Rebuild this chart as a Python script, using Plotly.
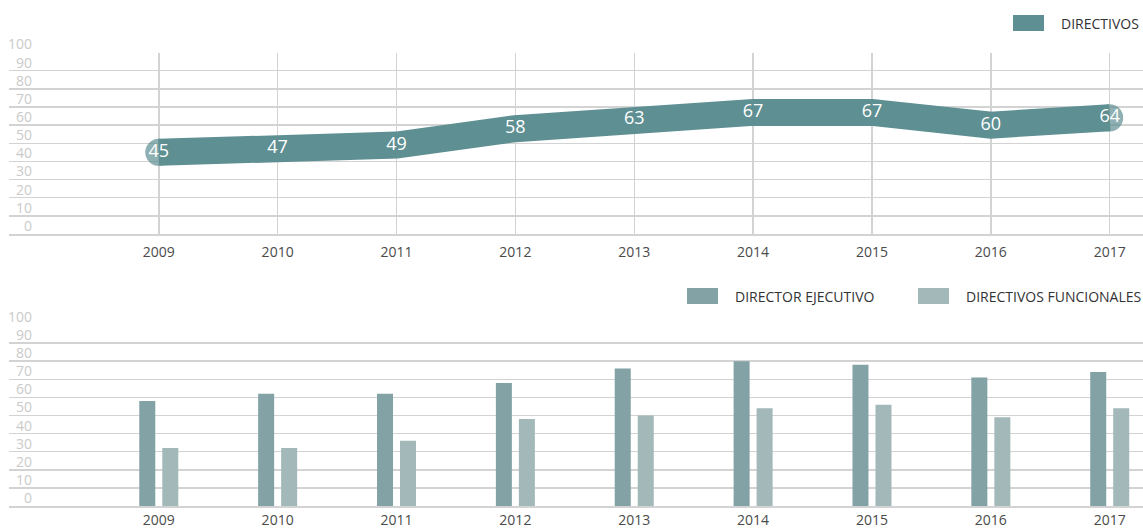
import plotly.graph_objects as go

years = [2009, 2010, 2011, 2012, 2013, 2014, 2015, 2016, 2017]
directivos = [45, 47, 49, 58, 63, 67, 67, 60, 64]
director_ejecutivo = [58, 62, 62, 68, 76, 80, 78, 71, 74]
directivos_funcionales = [32, 32, 36, 48, 50, 54, 56, 49, 54]
y_ticks = [0, 10, 20, 30, 40, 50, 60, 70, 80, 90, 100]

W, H = 1143, 528
ML = 9
FONT = "Open Sans"
LINE_C = "#5e8f92"
DARK_C = "#82a2a5"
LIGHT_C = "#a3b8b9"
GRID_C = "#d3d3d3"
TICK_C = "#cacaca"
TEXT_C = "#4a4a4a"

def px_x(p):
    return (p - ML) / (W - ML)

def px_y(p):
    return (H - p) / H

fig = go.Figure()

ends = [27 if i in (0, len(years) - 1) else 0 for i in range(len(years))]
fig.add_trace(go.Scatter(
    x=years, y=directivos, mode="lines+markers+text",
    line=dict(color=LINE_C, width=27),
    marker=dict(color=LINE_C, size=ends, line=dict(width=0)),
    text=[str(v) for v in directivos], textposition="middle center",
    textfont=dict(color="white", size=18, family=FONT),
    xaxis="x", yaxis="y", showlegend=False, hoverinfo="skip", cliponaxis=False,
))

fig.add_trace(go.Bar(
    x=years, y=director_ejecutivo, marker=dict(color=DARK_C, line=dict(width=0)),
    xaxis="x2", yaxis="y2", showlegend=False, name="DIRECTOR EJECUTIVO",
))
fig.add_trace(go.Bar(
    x=years, y=directivos_funcionales, marker=dict(color=LIGHT_C, line=dict(width=0)),
    xaxis="x2", yaxis="y2", showlegend=False, name="DIRECTIVOS FUNCIONALES",
))

xr = [2007.74, 2017.28]
common_x = dict(range=xr, tickvals=years, ticktext=[str(y) for y in years],
                tickfont=dict(family=FONT, size=14, color=TEXT_C),
                ticks="", showline=True, linecolor=GRID_C, linewidth=2,
                zeroline=False, fixedrange=True)
common_y = dict(range=[0, 100], tickvals=y_ticks, showgrid=True, gridcolor=GRID_C,
                gridwidth=1.5, zeroline=False, ticks="",
                tickfont=dict(family=FONT, size=14, color=TICK_C),
                ticklabelstandoff=-24, ticklabelshift=-8, fixedrange=True)

fig.update_layout(
    width=W, height=H,
    margin=dict(l=ML, r=0, t=0, b=0, autoexpand=False),
    plot_bgcolor="white", paper_bgcolor="white",
    font=dict(family=FONT),
    bargap=0.613, bargroupgap=0.304, barmode="group",
    xaxis=dict(domain=[0, 1], anchor="y", showgrid=True, gridcolor=GRID_C, gridwidth=1.5,
               ticklabelstandoff=4, **common_x),
    yaxis=dict(domain=[px_y(234), px_y(52.5)], anchor="x", **common_y),
    xaxis2=dict(domain=[0, 1], anchor="y2", showgrid=False, ticklabelstandoff=0, **common_x),
    yaxis2=dict(domain=[px_y(506), px_y(325)], anchor="x2", **common_y),
)

# Legends (manual)
legend_items = [
    (1013, 1044, 15, 31, LINE_C, 1059, 23, "DIRECTIVOS"),
    (687, 718, 288, 304, DARK_C, 733, 296, "DIRECTOR EJECUTIVO"),
    (918, 949, 288, 304, LIGHT_C, 964, 296, "DIRECTIVOS FUNCIONALES"),
]
for x0, x1, y0, y1, c, tx, ty, label in legend_items:
    fig.add_shape(type="rect", xref="paper", yref="paper",
                  x0=px_x(x0), x1=px_x(x1), y0=px_y(y1), y1=px_y(y0),
                  fillcolor=c, line=dict(width=0))
    fig.add_annotation(xref="paper", yref="paper", x=px_x(tx), y=px_y(ty),
                       xanchor="left", yanchor="middle", showarrow=False,
                       text=label, font=dict(family=FONT, size=14, color="#333333"))

fig.write_html("out.html", config={"displayModeBar": False, "staticPlot": True},
               post_script="document.body.style.margin='0px';document.body.style.overflow='hidden';")
